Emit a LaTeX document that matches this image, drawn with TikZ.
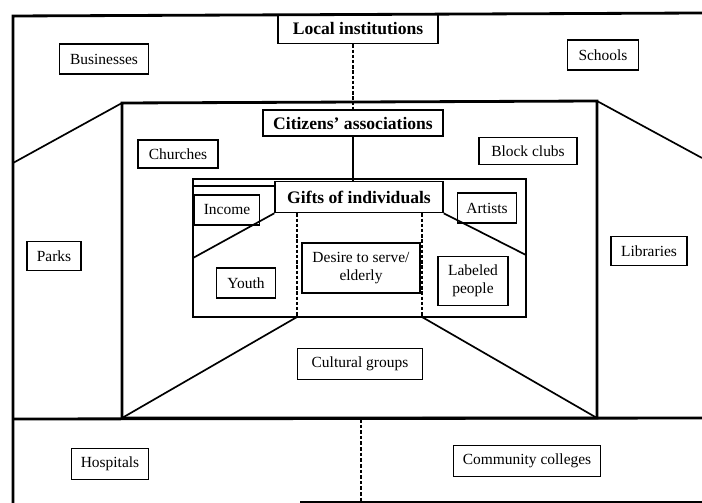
\documentclass[tikz,border=0pt]{standalone}
\usepackage{fontspec}
\setmainfont{Liberation Serif}
\begin{document}
\begin{tikzpicture}[x=0.025cm, y=-0.025cm,
    box/.style={draw, line width=1pt, inner xsep=6.5pt, inner ysep=2pt, minimum height=0.75cm, align=center, font=\fontsize{11}{12.5}\selectfont},
    head/.style={box, font=\fontsize{12.5}{14}\selectfont\bfseries},
    frame/.style={line width=2pt},
    diag/.style={line width=1.2pt},
    dotline/.style={line width=1.8pt, dash pattern=on 2.5pt off 1.2pt},
    thindot/.style={line width=0.8pt, dash pattern=on 2.5pt off 1.5pt}]

    \useasboundingbox (0,0) rectangle (702,503);

    % 枠の角
    \coordinate (oNW) at (13,16);
    \coordinate (oNE) at (702,13);
    \coordinate (oSW) at (13,503);
    \coordinate (oL) at (13,419);
    \coordinate (oR) at (702,418);
    \coordinate (oLd) at (13,163);
    \coordinate (oRd) at (702,158);
    \coordinate (bA) at (300,502);
    \coordinate (bB) at (702,502);
    \coordinate (mNW) at (122,103);
    \coordinate (mNE) at (597,101);
    \coordinate (mSW) at (122,418);
    \coordinate (mSE) at (597,418);
    \coordinate (iNW) at (193,179);
    \coordinate (iSE) at (526,317);
    \coordinate (iL) at (193,258);
    \coordinate (iR) at (526,255);
    \coordinate (iT) at (193,186);
    \coordinate (dL) at (297,317);
    \coordinate (dR) at (422,317);
    \coordinate (cTop) at (361,419);
    \coordinate (cBot) at (361,503);

    % 枠を描く
    \draw[frame] (oNE) -- (oNW) -- (oSW);
    \draw[frame] (oL) -- (oR);
    \draw[frame] (bA) -- (bB);
    \draw[frame] (mNW) -- (mNE) -- (mSE) -- (mSW) -- cycle;
    \draw[frame] (iNW) rectangle (iSE);

    % 箱
    \node[head, minimum width=4cm, minimum height=0.73cm] (loc) at (358,29) {Local institutions};
    \node[box, minimum width=2.22cm] (bus) at (104,59) {Businesses};
    \node[box, minimum width=1.78cm] (sch) at (603,55) {Schools};
    \node[head, minimum width=4.5cm, minimum height=0.65cm] (cit) at (353,123) {Citizens' associations};
    \node[box, minimum width=2cm, minimum height=0.7cm] (chu) at (178,154) {Churches};
    \node[box, minimum width=2.45cm, minimum height=0.68cm] (blk) at (528,151) {Block clubs};
    \node[head, minimum width=4.2cm, minimum height=0.78cm] (gif) at (359,197) {Gifts of individuals};
    \node[box, minimum width=1.62cm] (inc) at (227,210) {Income};
    \node[box, minimum width=1.45cm] (art) at (487,208) {Artists};
    \node[box, minimum width=1.48cm] (you) at (246,283) {Youth};
    \node[box, minimum width=2.95cm, minimum height=1.25cm] (des) at (361,268) {Desire to serve/\\elderly};
    \node[box, minimum width=1.75cm, minimum height=1.22cm] (lab) at (473,281) {Labeled\\people};
    \node[box, minimum width=1.35cm, minimum height=0.72cm] (par) at (54,256) {Parks};
    \node[box, minimum width=1.9cm, minimum height=0.72cm] (lib) at (649,251) {Libraries};
    \node[box, minimum width=3.12cm, minimum height=0.78cm] (cul) at (360,364) {Cultural groups};
    \node[box, minimum width=1.93cm, minimum height=0.78cm] (hos) at (110,464) {Hospitals};
    \node[box, minimum width=3.52cm, minimum height=0.78cm] (com) at (527,461) {Community colleges};

    % 線を引く
    \draw[dotline] (cit.north |- loc.south) -- (cit.north);
    \draw[diag] (cit.south) -- (cit.south |- gif.north);
    \draw[line width=0.9pt] (iT) -- (iT -| gif.west);
    \draw[diag] (mNW) -- (oLd);
    \draw[diag] (mNE) -- (oRd);
    \draw[diag] (mSW) -- (dL);
    \draw[diag] (mSE) -- (dR);
    \draw[diag] (gif.south west) -- (iL);
    \draw[diag] (gif.south east) -- (iR);
    \draw[dotline] (gif.south -| dL) -- (dL);
    \draw[dotline] (gif.south -| dR) -- (dR);
    \draw[thindot] (cTop) -- (cBot);

\end{tikzpicture}
\end{document}
